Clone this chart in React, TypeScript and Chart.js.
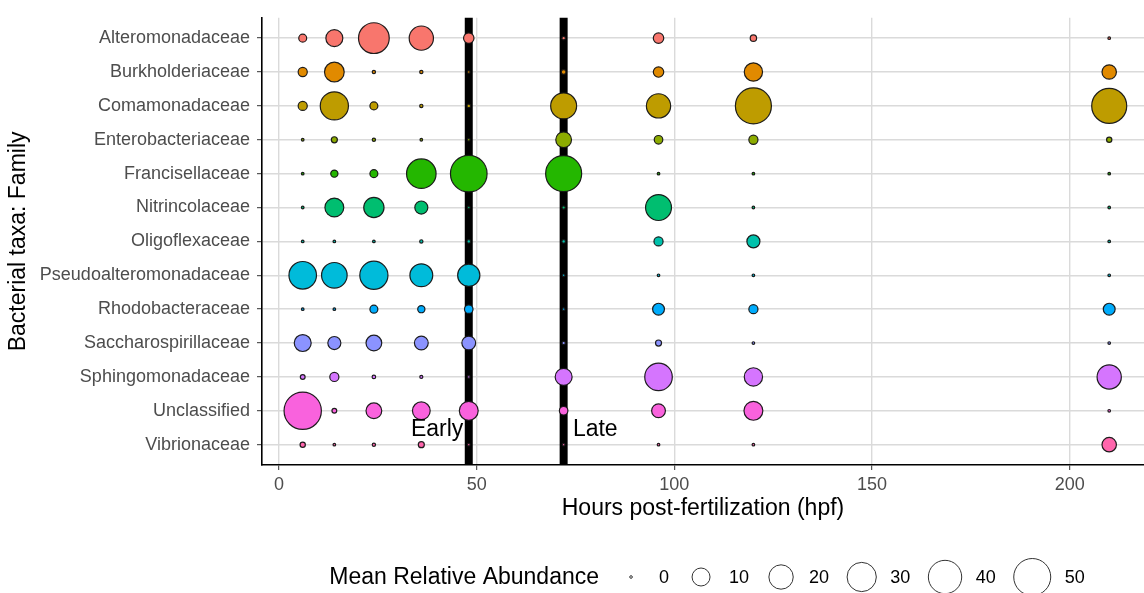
import React, { useEffect, useRef } from 'react';
import { Chart, registerables } from 'chart.js';

Chart.register(...registerables);

// ---------------- data ----------------
const HOURS = [6, 14, 24, 36, 48, 72, 96, 120, 210];

const FAMILIES = [
  'Alteromonadaceae',
  'Burkholderiaceae',
  'Comamonadaceae',
  'Enterobacteriaceae',
  'Francisellaceae',
  'Nitrincolaceae',
  'Oligoflexaceae',
  'Pseudoalteromonadaceae',
  'Rhodobacteraceae',
  'Saccharospirillaceae',
  'Sphingomonadaceae',
  'Unclassified',
  'Vibrionaceae',
];

const COLORS = [
  '#F8766D', '#E18A00', '#BE9C00', '#8CAB00', '#24B700', '#00BE70', '#00C1AB',
  '#00BBDA', '#00ACFC', '#8B93FF', '#D575FE', '#F962DD', '#FF65AC',
];

// mean relative abundance (%) at each hour in HOURS
const alteromonadaceae = [1.2, 8.7, 33.4, 19.8, 2.6, 0.03, 2.6, 0.6, 0];
const burkholderiaceae = [1.8, 12.4, 0.02, 0.02, 0, 0.2, 2.6, 10.4, 5.9];
const comamonadaceae = [1.8, 27.6, 1.2, 0.02, 0.04, 23.0, 19.8, 47.2, 44.4];
const enterobacteriaceae = [0, 0.5, 0.02, 0, 0, 7.3, 1.5, 1.8, 0.3];
const francisellaceae = [0, 0.9, 1.2, 30.6, 48.9, 47.2, 0, 0, 0];
const nitrincolaceae = [0, 11.2, 13.2, 4.6, 0, 0.02, 23.0, 0, 0];
const oligoflexaceae = [0, 0, 0, 0.02, 0.04, 0.04, 1.8, 4.6, 0];
const pseudoalteromonadaceae = [26.3, 22.3, 27.6, 17.3, 16.3, 0, 0, 0, 0];
const rhodobacteraceae = [0, 0, 1.2, 0.9, 1.5, 0, 3.6, 1.8, 3.6];
const saccharospirillaceae = [8.7, 4.6, 7.3, 5.3, 5.3, 0.02, 0.5, 0, 0];
const sphingomonadaceae = [0.2, 1.8, 0.04, 0.01, 0, 8.7, 26.3, 10.4, 19.8];
const unclassified = [51.0, 0.2, 7.3, 9.7, 11.2, 1.5, 5.3, 11.2, 0];
const vibrionaceae = [0.3, 0, 0.02, 0.5, 0, 0, 0, 0, 5.9];

const ABUNDANCE_ROWS = [
  alteromonadaceae, burkholderiaceae, comamonadaceae, enterobacteriaceae,
  francisellaceae, nitrincolaceae, oligoflexaceae, pseudoalteromonadaceae,
  rhodobacteraceae, saccharospirillaceae, sphingomonadaceae, unclassified, vibrionaceae,
];

const X_TICKS = [0, 50, 100, 150, 200];
const STAGE_HOURS = [48, 72];
const STAGE_LABELS = ['Early', 'Late'];
const STAGE_LABEL_HOURS = [40, 80];
const STAGE_LABEL_ROW = 11.55;
const LEGEND_BREAKS = [0, 10, 20, 30, 40, 50];

// ---------------- styling ----------------
const FONT = '"Liberation Sans", Arial, Helvetica, sans-serif';
const R_MIN = 1.3;
const R_MAX = 18.5;
const V_MAX = 50;
const radius = (v: number) => R_MIN + (R_MAX - R_MIN) * Math.sqrt(Math.max(v, 0) / V_MAX);

const stagePlugin = {
  id: 'stageLines',
  beforeDatasetsDraw(chart: any) {
    const { ctx, chartArea, scales } = chart;
    const x = scales.x;
    ctx.save();
    ctx.strokeStyle = '#000';
    ctx.lineWidth = 8;
    STAGE_HOURS.forEach((h) => {
      const px = x.getPixelForValue(h);
      ctx.beginPath();
      ctx.moveTo(px, chartArea.top);
      ctx.lineTo(px, chartArea.bottom);
      ctx.stroke();
    });
    ctx.restore();
  },
  afterDatasetsDraw(chart: any) {
    const { ctx, scales } = chart;
    ctx.save();
    ctx.font = `23px ${FONT}`;
    ctx.fillStyle = '#000';
    ctx.textAlign = 'center';
    ctx.textBaseline = 'middle';
    STAGE_LABELS.forEach((t, i) => {
      ctx.fillText(t, scales.x.getPixelForValue(STAGE_LABEL_HOURS[i]), scales.y.getPixelForValue(STAGE_LABEL_ROW));
    });
    ctx.restore();
  },
};

const sizeLegendPlugin = {
  id: 'sizeLegend',
  afterDraw(chart: any) {
    const { ctx, chartArea } = chart;
    const yMid = 577;
    const title = 'Mean Relative Abundance';
    const titleFont = `23px ${FONT}`;
    const labelFont = `18px ${FONT}`;
    ctx.save();
    ctx.font = titleFont;
    let total = ctx.measureText(title).width + 18;
    ctx.font = labelFont;
    LEGEND_BREAKS.forEach((v, i) => {
      const h = Math.max(14, radius(v));
      total += 2 * h + 14 + ctx.measureText(String(v)).width + (i < LEGEND_BREAKS.length - 1 ? 18 : 0);
    });
    let cursor = (chartArea.left + chartArea.right) / 2 + 4 - total / 2;
    ctx.textBaseline = 'middle';
    ctx.textAlign = 'left';
    ctx.fillStyle = '#000';
    ctx.font = titleFont;
    ctx.fillText(title, cursor, yMid + 1);
    cursor += ctx.measureText(title).width + 18;
    ctx.font = labelFont;
    LEGEND_BREAKS.forEach((v) => {
      const r = radius(v);
      const h = Math.max(14, r);
      const cx = cursor + h;
      ctx.beginPath();
      ctx.arc(cx, yMid, r, 0, Math.PI * 2);
      ctx.fillStyle = '#fff';
      ctx.fill();
      ctx.strokeStyle = '#333';
      ctx.lineWidth = 1;
      ctx.stroke();
      const lx = cx + h + 14;
      ctx.fillStyle = '#000';
      ctx.fillText(String(v), lx, yMid + 1);
      cursor = lx + ctx.measureText(String(v)).width + 18;
    });
    ctx.restore();
  },
};

export default function App() {
  const canvasRef = useRef<HTMLCanvasElement | null>(null);

  useEffect(() => {
    if (!canvasRef.current) return;
    Chart.defaults.font.family = FONT;

    const datasets = FAMILIES.map((name, i) => ({
      label: name,
      data: HOURS.map((h, j) => ({ x: h, y: i, r: radius(ABUNDANCE_ROWS[i][j]) })),
      backgroundColor: COLORS[i],
      borderColor: 'rgba(20,20,20,0.95)',
      borderWidth: 1.2,
      hoverBorderWidth: 1.2,
      hoverRadius: 0,
    }));

    const gridOpts = {
      color: '#dadada',
      lineWidth: 1.4,
      tickColor: '#333',
      tickLength: 5,
      tickWidth: 1,
    };

    const chart = new Chart(canvasRef.current, {
      type: 'bubble',
      data: { datasets },
      options: {
        responsive: false,
        animation: false,
        events: [],
        layout: { autoPadding: false, padding: { top: 14, bottom: 68, left: 0, right: 0 } },
        plugins: {
          legend: { display: false },
          tooltip: { enabled: false },
        },
        scales: {
          x: {
            type: 'linear',
            position: 'bottom',
            min: -4.3,
            max: 218.8,
            afterBuildTicks: (s: any) => {
              s.ticks = X_TICKS.map((v) => ({ value: v }));
            },
            afterFit: (s: any) => {
              s.height = 60;
            },
            grid: gridOpts,
            border: { display: true, color: '#000', width: 1.6 },
            ticks: {
              color: '#4d4d4d',
              font: { size: 18 },
              padding: 4,
              maxRotation: 0,
              autoSkip: false,
            },
            title: {
              display: true,
              text: 'Hours post-fertilization (hpf)',
              color: '#000',
              font: { size: 23 },
              padding: { top: 0, bottom: 3 },
            },
          },
          y: {
            type: 'linear',
            position: 'left',
            reverse: true,
            min: -0.6,
            max: 12.6,
            afterBuildTicks: (s: any) => {
              s.ticks = FAMILIES.map((_, i) => ({ value: i }));
            },
            afterFit: (s: any) => {
              s.width = 262;
            },
            grid: gridOpts,
            border: { display: true, color: '#000', width: 1.6 },
            ticks: {
              color: '#4d4d4d',
              font: { size: 18 },
              padding: 7,
              autoSkip: false,
              callback: (v: any) => FAMILIES[Math.round(Number(v))] ?? '',
            },
            title: {
              display: true,
              text: 'Bacterial taxa: Family',
              color: '#000',
              font: { size: 23 },
              padding: { top: 5, bottom: 0 },
            },
          },
        },
      } as any,
      plugins: [stagePlugin, sizeLegendPlugin],
    });

    return () => chart.destroy();
  }, []);

  return (
    <div style={{ position: 'absolute', left: 0, top: 0, width: 1144, height: 593, background: '#fff' }}>
      <canvas ref={canvasRef} width={1144} height={593} style={{ display: 'block' }} />
    </div>
  );
}
